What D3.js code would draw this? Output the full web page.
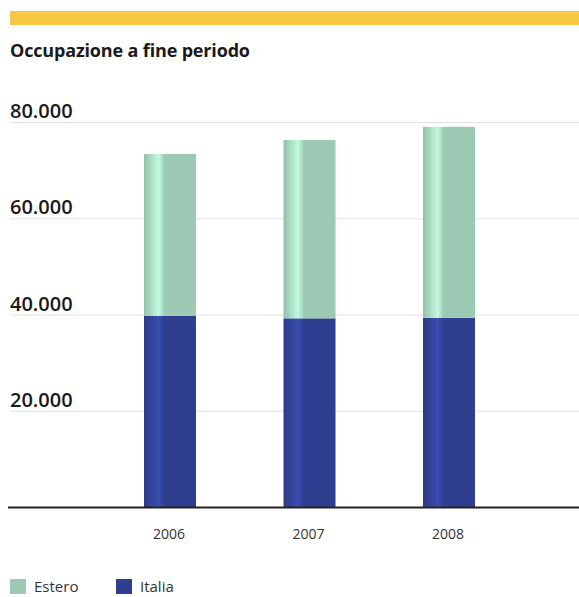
<!DOCTYPE html>
<html>
<head>
<meta charset="utf-8">
<script src="https://cdn.jsdelivr.net/npm/d3@7"></script>
<style>
body { margin: 0; background: #fff; }
text { font-family: "Open Sans", "Noto Sans", sans-serif; }
</style>
</head>
<body>
<div id="chart"></div>
<script>
// data
var anni = ["2006", "2007", "2008"]
var italia = [39700, 39200, 39300]
var estero = [33650, 37050, 39700]
var ticks = [20000, 40000, 60000, 80000]
var serie = ["Estero", "Italia"]
var colori = {Estero: "#9dcab4", Italia: "#2f3e8e"}

var w = 579, h = 597

var svg = d3.select("#chart")
	.append("svg")
	.attr("width", w)
	.attr("height", h)

// gradients for the shiny bar look
var defs = svg.append("defs")
serie.forEach(function(s) {
	var base = d3.color(colori[s])
	var g = defs.append("linearGradient")
		.attr("id", "g" + s)
		.attr("x1", "0%").attr("x2", "100%")
	g.append("stop").attr("offset", "0%").attr("stop-color", base.darker(0.15))
	g.append("stop").attr("offset", "28%").attr("stop-color", base.brighter(0.6))
	g.append("stop").attr("offset", "40%").attr("stop-color", base)
	g.append("stop").attr("offset", "100%").attr("stop-color", base)
})

// yellow band on top
svg.append("rect")
	.attr("x", 10).attr("y", 11)
	.attr("width", w - 10).attr("height", 14)
	.attr("fill", "#f7c843")

svg.append("text")
	.attr("x", 10).attr("y", 57)
	.attr("font-size", 18)
	.attr("font-weight", 700)
	.attr("textLength", 240)
	.attr("fill", "#1a1a1a")
	.text("Occupazione a fine periodo")

var x = d3.scalePoint()
	.domain(anni)
	.range([170, 449])

var y = d3.scaleLinear()
	.domain([0, 80000])
	.range([507, 122])

var fmt = function(d) { return d3.format(",")(d).replace(/,/g, ".") }

// gridlines + labels
var grid = svg.append("g")
grid.selectAll("line")
	.data(ticks)
	.enter().append("line")
	.attr("x1", 10).attr("x2", w)
	.attr("y1", function(d) { return y(d) + 0.5 })
	.attr("y2", function(d) { return y(d) + 0.5 })
	.attr("stroke", "#e2e2e2")
	.attr("stroke-width", 1)

grid.selectAll("text")
	.data(ticks)
	.enter().append("text")
	.attr("x", 10)
	.attr("y", function(d) { return y(d) - 4 })
	.attr("font-size", 20)
	.attr("font-weight", 600)
	.attr("fill", "#1a1a1a")
	.text(fmt)

// stacked bars
var rows = anni.map(function(a, i) { return {anno: a, Italia: italia[i], Estero: estero[i]} })
var stack = d3.stack().keys(["Italia", "Estero"])(rows)
var bw = 52

svg.append("g")
	.selectAll("g")
	.data(stack)
	.enter().append("g")
	.attr("fill", function(d) { return "url(#g" + d.key + ")" })
	.selectAll("rect")
	.data(function(d) { return d })
	.enter().append("rect")
	.attr("x", function(d) { return x(d.data.anno) - bw / 2 })
	.attr("y", function(d) { return y(d[1]) })
	.attr("width", bw)
	.attr("height", function(d) { return y(d[0]) - y(d[1]) })

// baseline
svg.append("line")
	.attr("x1", 8).attr("x2", w)
	.attr("y1", y(0) + 0.5).attr("y2", y(0) + 0.5)
	.attr("stroke", "#222")
	.attr("stroke-width", 2)

// year labels
svg.append("g")
	.selectAll("text")
	.data(anni)
	.enter().append("text")
	.attr("x", function(d) { return x(d) - 17 })
	.attr("y", 539)
	.attr("font-size", 14)
	.attr("fill", "#333")
	.text(function(d) { return d })

// legend
var leg = svg.append("g")
	.selectAll("g")
	.data(serie)
	.enter().append("g")
	.attr("transform", function(d, i) { return "translate(" + (10 + i * 106) + ",579)" })
leg.append("rect")
	.attr("width", 16).attr("height", 15)
	.attr("fill", function(d) { return colori[d] })
leg.append("text")
	.attr("x", 24)
	.attr("y", 13)
	.attr("font-size", 15)
	.attr("fill", "#333")
	.text(function(d) { return d })
</script>
</body>
</html>
